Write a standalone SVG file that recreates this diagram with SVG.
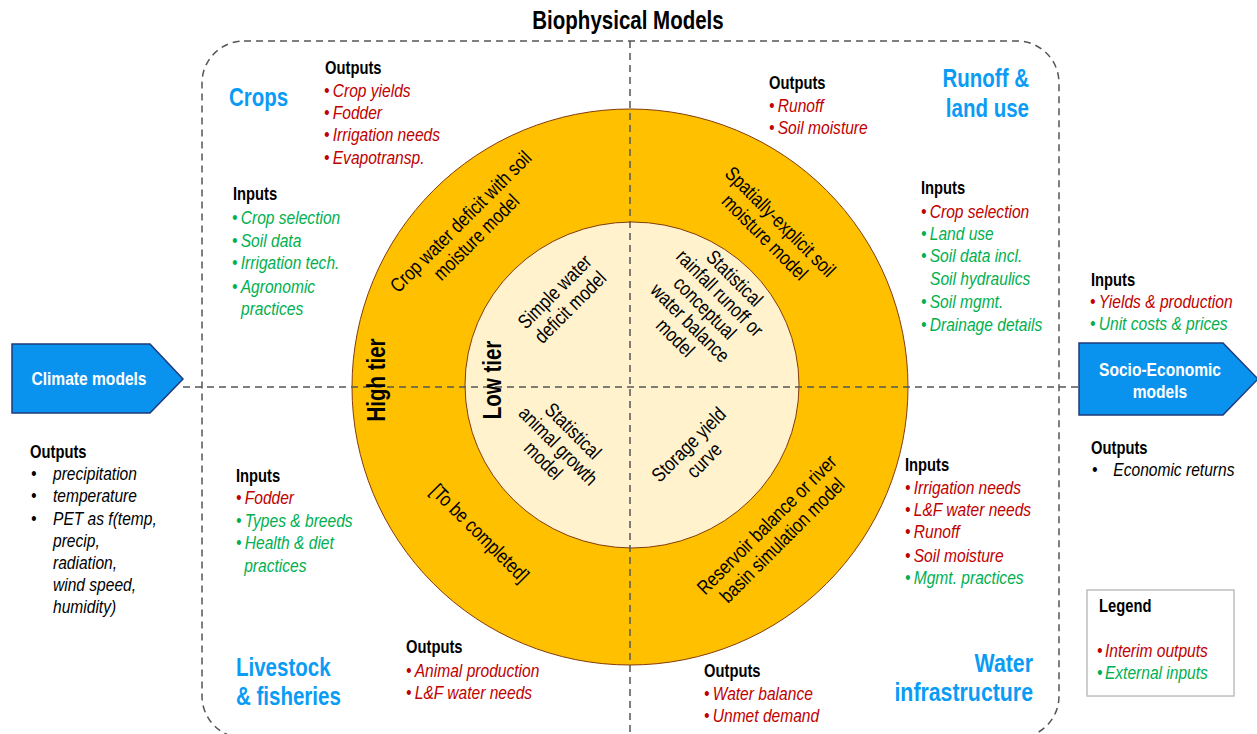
<svg xmlns="http://www.w3.org/2000/svg" width="1257" height="734" viewBox="0 0 1257 734">
<style>
text{font-family:"Liberation Sans",Arial,sans-serif;fill:#000}
.h{font-weight:bold;font-size:18px}
.it{font-style:italic;font-size:19px}
.r{fill:#C00000}
.g{fill:#00B050}
.k{fill:#000}
.blue{fill:#0A9CF5;font-weight:bold;font-size:25px}
.tier{font-weight:bold;font-size:25px}
.ring{font-size:20px}
.arrowtxt{fill:#fff;font-weight:bold;font-size:19px}
.dash{fill:none;stroke:#555;stroke-width:1.5;stroke-dasharray:7 5}
.arrow{fill:#0A93EE;stroke:#1F3A7A;stroke-width:1.5}
</style>
<rect width="1257" height="734" fill="#fff"/>
<g id="frame">
<rect class="dash" x="202" y="41" width="857" height="697" rx="42"/>
<g transform="translate(628 0) scale(0.82 1)"><text x="0" y="29" text-anchor="middle" style="font-weight:bold;font-size:25px">Biophysical Models</text></g>
</g>
<g id="rings">
<circle cx="630" cy="387" r="278" fill="#FFC000" stroke="#843C0C" stroke-width="1"/>
<ellipse cx="632" cy="385" rx="167" ry="163" fill="#FFF2CC" stroke="#843C0C" stroke-width="1"/>
</g>
<g id="connectors">
<line class="dash" x1="630" y1="41" x2="630" y2="734"/>
<line class="dash" x1="183" y1="387" x2="1079" y2="387"/>
</g>
<g id="ring-labels">
<g transform="translate(376 380) rotate(-90) scale(0.82 1)"><text class="tier" x="0" y="9" text-anchor="middle">High tier</text></g>
<g transform="translate(492 380) rotate(-90) scale(0.82 1)"><text class="tier" x="0" y="9" text-anchor="middle">Low tier</text></g>
<g transform="translate(469 230) rotate(-45) scale(0.82 1)"><text class="ring" text-anchor="middle"><tspan x="0" y="-5">Crop water deficit with soil</tspan><tspan x="0" y="17">moisture model</tspan></text></g>
<g transform="translate(563 300) rotate(-45) scale(0.82 1)"><text class="ring" text-anchor="middle"><tspan x="0" y="-5">Simple water</tspan><tspan x="0" y="17">deficit model</tspan></text></g>
<g transform="translate(772 230) rotate(45) scale(0.82 1)"><text class="ring" text-anchor="middle"><tspan x="0" y="-5">Spatially-explicit soil</tspan><tspan x="0" y="17">moisture model</tspan></text></g>
<g transform="translate(703 310) rotate(45) scale(0.82 1)"><text class="ring" text-anchor="middle"><tspan x="0" y="-38">Statistical</tspan><tspan x="0" y="-17">rainfall runoff or</tspan><tspan x="0" y="4">conceptual</tspan><tspan x="0" y="25">water balance</tspan><tspan x="0" y="46">model</tspan></text></g>
<g transform="translate(557 447) rotate(45) scale(0.82 1)"><text class="ring" text-anchor="middle"><tspan x="0" y="-16">Statistical</tspan><tspan x="0" y="5">animal growth</tspan><tspan x="0" y="26">model</tspan></text></g>
<g transform="translate(480 533) rotate(45) scale(0.82 1)"><text class="ring" x="0" y="7" text-anchor="middle">[To be completed]</text></g>
<g transform="translate(697 453) rotate(-45) scale(0.82 1)"><text class="ring" text-anchor="middle"><tspan x="0" y="-5">Storage yield</tspan><tspan x="0" y="17">curve</tspan></text></g>
<g transform="translate(775 533) rotate(-45) scale(0.82 1)"><text class="ring" text-anchor="middle"><tspan x="0" y="-5">Reservoir balance or river</tspan><tspan x="0" y="17">basin simulation model</tspan></text></g>
</g>
<g id="crops">
<g transform="translate(229 0) scale(0.82 1)"><text class="blue" x="0" y="106">Crops</text></g>
<g transform="translate(325 0) scale(0.82 1)"><text class="h" x="0" y="74">Outputs</text></g>
<g transform="translate(324 0) scale(0.82 1)"><text class="it r"><tspan x="0" y="97">•</tspan><tspan dx="4">Crop yields</tspan><tspan x="0" y="119">•</tspan><tspan dx="4">Fodder</tspan><tspan x="0" y="141">•</tspan><tspan dx="4">Irrigation needs</tspan><tspan x="0" y="164">•</tspan><tspan dx="4">Evapotransp.</tspan></text></g>
<g transform="translate(233 0) scale(0.82 1)"><text class="h" x="0" y="200">Inputs</text></g>
<g transform="translate(232 0) scale(0.82 1)"><text class="it g"><tspan x="0" y="224">•</tspan><tspan dx="4">Crop selection</tspan><tspan x="0" y="247">•</tspan><tspan dx="4">Soil data</tspan><tspan x="0" y="269">•</tspan><tspan dx="4">Irrigation tech.</tspan><tspan x="0" y="293">•</tspan><tspan dx="4">Agronomic</tspan><tspan x="11" y="315">practices</tspan></text></g>
</g>
<g id="runoff">
<g transform="translate(1029 0) scale(0.82 1)"><text class="blue" text-anchor="end"><tspan x="0" y="87">Runoff &amp;</tspan><tspan x="0" y="117">land use</tspan></text></g>
<g transform="translate(769 0) scale(0.82 1)"><text class="h" x="0" y="89">Outputs</text></g>
<g transform="translate(769 0) scale(0.82 1)"><text class="it r"><tspan x="0" y="112">•</tspan><tspan dx="4">Runoff</tspan><tspan x="0" y="134">•</tspan><tspan dx="4">Soil moisture</tspan></text></g>
<g transform="translate(921 0) scale(0.82 1)"><text class="h" x="0" y="194">Inputs</text></g>
<g transform="translate(921 0) scale(0.82 1)"><text class="it"><tspan class="r" x="0" y="218">•</tspan><tspan class="r" dx="4">Crop selection</tspan><tspan class="g" x="0" y="240">•</tspan><tspan class="g" dx="4">Land use</tspan><tspan class="g" x="0" y="262">•</tspan><tspan class="g" dx="4">Soil data incl.</tspan><tspan class="g" x="11" y="285">Soil hydraulics</tspan><tspan class="g" x="0" y="308">•</tspan><tspan class="g" dx="4">Soil mgmt.</tspan><tspan class="g" x="0" y="331">•</tspan><tspan class="g" dx="4">Drainage details</tspan></text></g>
</g>
<g id="livestock">
<g transform="translate(236 0) scale(0.82 1)"><text class="h" x="0" y="482">Inputs</text></g>
<g transform="translate(236 0) scale(0.82 1)"><text class="it"><tspan class="r" x="0" y="504">•</tspan><tspan class="r" dx="4">Fodder</tspan><tspan class="g" x="0" y="527">•</tspan><tspan class="g" dx="4">Types &amp; breeds</tspan><tspan class="g" x="0" y="549">•</tspan><tspan class="g" dx="4">Health &amp; diet</tspan><tspan class="g" x="10" y="572">practices</tspan></text></g>
<g transform="translate(236 0) scale(0.82 1)"><text class="blue"><tspan x="0" y="676">Livestock</tspan><tspan x="0" y="705">&amp; fisheries</tspan></text></g>
<g transform="translate(406 0) scale(0.82 1)"><text class="h" x="0" y="653">Outputs</text></g>
<g transform="translate(406 0) scale(0.82 1)"><text class="it r"><tspan x="0" y="677">•</tspan><tspan dx="4">Animal production</tspan><tspan x="0" y="699">•</tspan><tspan dx="4">L&amp;F water needs</tspan></text></g>
</g>
<g id="water">
<g transform="translate(905 0) scale(0.82 1)"><text class="h" x="0" y="471">Inputs</text></g>
<g transform="translate(905 0) scale(0.82 1)"><text class="it"><tspan class="r" x="0" y="494">•</tspan><tspan class="r" dx="4">Irrigation needs</tspan><tspan class="r" x="0" y="516">•</tspan><tspan class="r" dx="4">L&amp;F water needs</tspan><tspan class="r" x="0" y="538">•</tspan><tspan class="r" dx="4">Runoff</tspan><tspan class="r" x="0" y="562">•</tspan><tspan class="r" dx="4">Soil moisture</tspan><tspan class="g" x="0" y="584">•</tspan><tspan class="g" dx="4">Mgmt. practices</tspan></text></g>
<g transform="translate(1033 0) scale(0.82 1)"><text class="blue" text-anchor="end" style="font-size:26px"><tspan x="0" y="672">Water</tspan><tspan x="0" y="701">infrastructure</tspan></text></g>
<g transform="translate(704 0) scale(0.82 1)"><text class="h" x="0" y="677">Outputs</text></g>
<g transform="translate(704 0) scale(0.82 1)"><text class="it r"><tspan x="0" y="700">•</tspan><tspan dx="4">Water balance</tspan><tspan x="0" y="722">•</tspan><tspan dx="4">Unmet demand</tspan></text></g>
</g>
<g id="climate">
<polygon class="arrow" points="12,344 150,344 183,379 150,413 12,413"/>
<g transform="translate(89 0) scale(0.82 1)"><text class="arrowtxt" x="0" y="385" text-anchor="middle">Climate models</text></g>
<g transform="translate(30 0) scale(0.82 1)"><text class="h" x="0" y="458">Outputs</text></g>
<g transform="translate(31 0) scale(0.82 1)"><text class="it k"><tspan x="0" y="480">•</tspan><tspan x="0" y="502">•</tspan><tspan x="0" y="525">•</tspan></text></g>
<g transform="translate(53 0) scale(0.82 1)"><text class="it k"><tspan x="0" y="480">precipitation</tspan><tspan x="0" y="502">temperature</tspan><tspan x="0" y="525">PET as f(temp,</tspan><tspan x="0" y="547">precip,</tspan><tspan x="0" y="569">radiation,</tspan><tspan x="0" y="591">wind speed,</tspan><tspan x="0" y="613">humidity)</tspan></text></g>
</g>
<g id="socio">
<g transform="translate(1091 0) scale(0.82 1)"><text class="h" x="0" y="286">Inputs</text></g>
<g transform="translate(1090 0) scale(0.82 1)"><text class="it"><tspan class="r" x="0" y="308">•</tspan><tspan class="r" dx="4">Yields &amp; production</tspan><tspan class="g" x="0" y="330">•</tspan><tspan class="g" dx="4">Unit costs &amp; prices</tspan></text></g>
<polygon class="arrow" points="1079,343 1223,343 1258,379 1223,415 1079,415"/>
<g transform="translate(1160 0) scale(0.82 1)"><text class="arrowtxt" text-anchor="middle"><tspan x="0" y="376">Socio-Economic</tspan><tspan x="0" y="398">models</tspan></text></g>
<g transform="translate(1091 0) scale(0.82 1)"><text class="h" x="0" y="454">Outputs</text></g>
<g transform="translate(1092 0) scale(0.82 1)"><text class="it k"><tspan x="0" y="476">•</tspan><tspan x="26" y="476">Economic returns</tspan></text></g>
</g>
<g id="legend">
<rect x="1087" y="590" width="147" height="106" fill="#fff" stroke="#BFBFBF" stroke-width="1.5"/>
<g transform="translate(1099 0) scale(0.82 1)"><text class="h" x="0" y="612">Legend</text></g>
<g transform="translate(1097 0) scale(0.82 1)"><text class="it"><tspan class="r" x="0" y="657">•</tspan><tspan class="r" dx="3">Interim outputs</tspan><tspan class="g" x="0" y="679">•</tspan><tspan class="g" dx="3">External inputs</tspan></text></g>
</g>
</svg>
